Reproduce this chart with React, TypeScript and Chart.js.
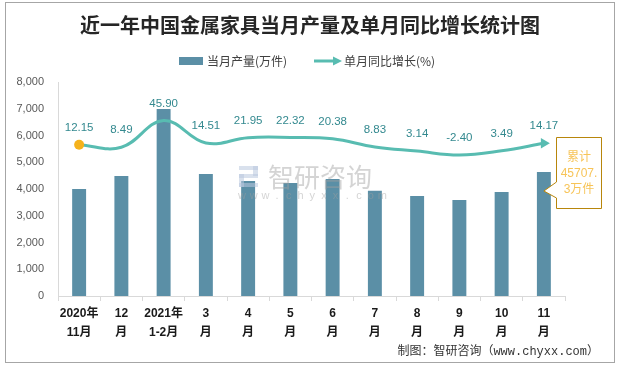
import React, { useEffect, useRef } from "react";
import { Chart, registerables } from "chart.js";

Chart.register(...registerables);

const categories: string[][] = [
  ["2020年", "11月"], ["12", "月"], ["2021年", "1-2月"], ["3", "月"], ["4", "月"], ["5", "月"],
  ["6", "月"], ["7", "月"], ["8", "月"], ["9", "月"], ["10", "月"], ["11", "月"],
];
const production = [4000, 4490, 6990, 4560, 4300, 4220, 4370, 3930, 3740, 3590, 3890, 4640];
const growth = [12.15, 8.49, 45.9, 14.51, 21.95, 22.32, 20.38, 8.83, 3.14, -2.4, 3.49, 14.17];
const growthLabels = ["12.15", "8.49", "45.90", "14.51", "21.95", "22.32", "20.38", "8.83", "3.14", "-2.40", "3.49", "14.17"];

const TITLE = "近一年中国金属家具当月产量及单月同比增长统计图";
const LEGEND_BAR = "当月产量(万件)";
const LEGEND_LINE = "单月同比增长(%)";
const SOURCE = "制图：智研咨询（www.chyxx.com）";
const NOTE_LINES = ["累计", "45707.", "3万件"];

const BAR_COLOR = "#5b8fa6";
const LINE_COLOR = "#58bcb1";
const LABEL_COLOR = "#33898f";
const SANS = "'Liberation Sans', 'Noto Sans CJK SC', sans-serif";
const CJK = "'Noto Sans CJK SC', sans-serif";

const decorPlugin = {
  id: "decor",
  beforeDraw(chart: any) {
    const ctx = chart.ctx;
    ctx.save();
    ctx.fillStyle = "#ffffff";
    ctx.fillRect(0, 0, chart.width, chart.height);
    // border
    ctx.strokeStyle = "#a6a6a6";
    ctx.lineWidth = 1;
    ctx.strokeRect(5.5, 2.5, 609, 360);
    // title
    ctx.fillStyle = "#262626";
    ctx.font = `bold 20px ${CJK}`;
    ctx.textAlign = "center";
    ctx.textBaseline = "middle";
    ctx.fillText(TITLE, 310, 25);
    // legend
    ctx.font = `12px ${CJK}`;
    ctx.textAlign = "left";
    ctx.fillStyle = BAR_COLOR;
    ctx.fillRect(179, 57, 24, 8);
    ctx.fillStyle = "#404040";
    ctx.fillText(LEGEND_BAR, 207, 61);
    ctx.strokeStyle = LINE_COLOR;
    ctx.lineWidth = 3;
    ctx.beginPath();
    ctx.moveTo(314, 61);
    ctx.lineTo(335, 61);
    ctx.stroke();
    ctx.fillStyle = LINE_COLOR;
    ctx.beginPath();
    ctx.moveTo(342, 61);
    ctx.lineTo(333, 56.5);
    ctx.lineTo(333, 65.5);
    ctx.closePath();
    ctx.fill();
    ctx.fillStyle = "#404040";
    ctx.fillText(LEGEND_LINE, 344, 61);
    // source
    ctx.font = `12px 'Liberation Mono', ${CJK}`;
    ctx.textAlign = "right";
    ctx.fillStyle = "#333333";
    ctx.fillText(SOURCE, 599, 352);
    ctx.restore();
  },
  afterDatasetsDraw(chart: any) {
    const ctx = chart.ctx;
    ctx.save();
    // watermark
    ctx.fillStyle = "rgba(185,200,222,0.55)";
    ctx.fillRect(239, 166, 19, 4);
    ctx.fillRect(253, 166, 5, 10);
    ctx.fillRect(239, 174, 19, 4);
    ctx.fillRect(239, 174, 5, 13);
    ctx.fillRect(239, 183, 19, 4);
    ctx.fillStyle = "rgba(160,160,160,0.45)";
    ctx.font = `26px ${CJK}`;
    ctx.textAlign = "left";
    ctx.textBaseline = "middle";
    ctx.fillText("智研咨询", 268, 177);
    ctx.font = `11px ${SANS}`;
    ctx.textAlign = "center";
    const wm = "www.chyxx.com";
    for (let i = 0; i < wm.length; i++) {
      ctx.fillText(wm[i], 242 + i * 11.7, 196);
    }
    // line labels
    const meta = chart.getDatasetMeta(1);
    ctx.fillStyle = LABEL_COLOR;
    ctx.font = `11.5px ${SANS}`;
    ctx.textAlign = "center";
    ctx.textBaseline = "middle";
    meta.data.forEach((pt: any, i: number) => {
      ctx.fillText(growthLabels[i], pt.x, pt.y - 17);
    });
    // note box
    const last = meta.data[meta.data.length - 1];
    const tipX = last.x;
    const tipY = 191;
    ctx.fillStyle = "#ffffff";
    ctx.strokeStyle = "#b8860b";
    ctx.lineWidth = 1;
    ctx.beginPath();
    ctx.moveTo(556.5, 137.5);
    ctx.lineTo(601.5, 137.5);
    ctx.lineTo(601.5, 208.5);
    ctx.lineTo(556.5, 208.5);
    ctx.lineTo(556.5, 198);
    ctx.lineTo(tipX, tipY);
    ctx.lineTo(556.5, 182);
    ctx.closePath();
    ctx.fill();
    ctx.stroke();
    ctx.fillStyle = "#f7c458";
    ctx.font = `12px ${SANS}`;
    NOTE_LINES.forEach((t, i) => ctx.fillText(t, 579, 158 + i * 16));
    ctx.restore();
  },
};

export default function App() {
  const ref = useRef<HTMLCanvasElement>(null);
  useEffect(() => {
    const n = growth.length;
    const chart = new Chart(ref.current as HTMLCanvasElement, {
      type: "bar",
      data: {
        labels: categories,
        datasets: [
          {
            type: "bar",
            label: LEGEND_BAR,
            data: production,
            backgroundColor: BAR_COLOR,
            categoryPercentage: 1,
            barPercentage: 0.33,
            yAxisID: "y",
            order: 2,
          },
          {
            type: "line",
            label: LEGEND_LINE,
            data: growth,
            borderColor: LINE_COLOR,
            borderWidth: 3,
            tension: 0.4,
            yAxisID: "y1",
            order: 1,
            pointRadius: growth.map((_, i) => (i === 0 ? 5 : i === n - 1 ? 6 : 0)),
            pointStyle: growth.map((_, i) => (i === n - 1 ? "triangle" : "circle")) as any,
            rotation: growth.map((_, i) => (i === n - 1 ? 90 : 0)) as any,
            pointBackgroundColor: growth.map((_, i) => (i === 0 ? "#f5b21c" : LINE_COLOR)),
            pointBorderWidth: 0,
          } as any,
        ],
      },
      options: {
        responsive: false,
        animation: false,
        devicePixelRatio: 1,
        layout: { padding: { top: 82, right: 52, bottom: 0, left: 0 } },
        plugins: { legend: { display: false }, title: { display: false }, tooltip: { enabled: false } },
        scales: {
          x: {
            grid: { display: true, drawOnChartArea: false, drawTicks: true, tickLength: 5, color: "#d9d9d9" },
            border: { display: true, color: "#d9d9d9" },
            ticks: {
              color: "#1a1a1a",
              font: { family: SANS, size: 12, weight: "bold", lineHeight: 1.6 },
              padding: 3,
              maxRotation: 0,
              autoSkip: false,
            },
            afterFit: (s: any) => { s.height = 71; },
          },
          y: {
            min: 0,
            max: 8000,
            grid: { display: false, drawTicks: false },
            border: { display: true, color: "#d9d9d9" },
            ticks: {
              stepSize: 1000,
              color: "#595959",
              padding: 14,
              font: { family: SANS, size: 11 },
              callback: (v: any) => Number(v).toLocaleString("en-US"),
            },
            afterFit: (s: any) => { s.width = 58; },
          },
          y1: {
            display: false,
            min: -200,
            max: 100,
            position: "right",
          },
        },
      } as any,
      plugins: [decorPlugin],
    });
    return () => chart.destroy();
  }, []);
  return (
    <div style={{ position: "absolute", left: 0, top: 0, width: 617, height: 367 }}>
      <canvas ref={ref} width={617} height={367} />
    </div>
  );
}
